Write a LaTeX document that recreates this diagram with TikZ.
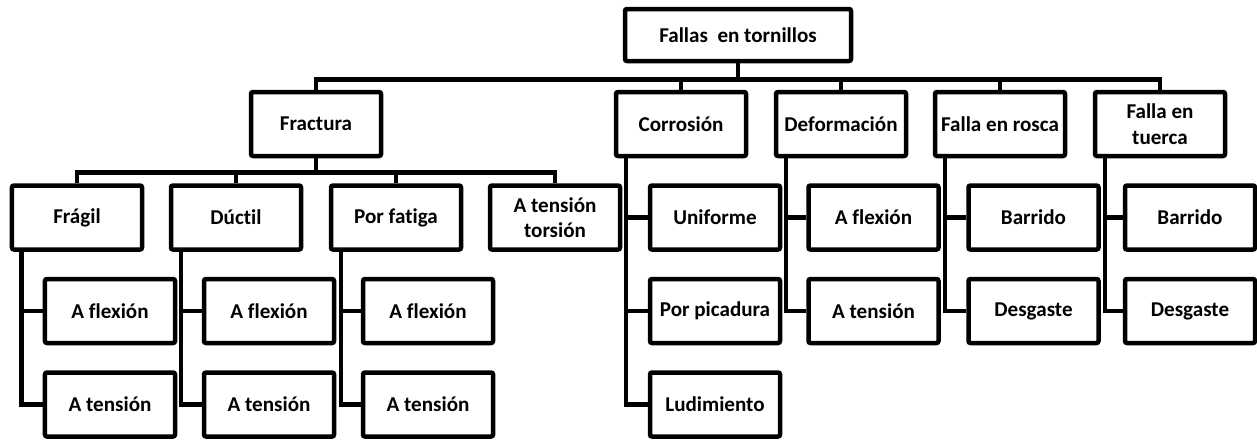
\documentclass[tikz,border=0pt]{standalone}
\usepackage{fontspec}
\setmainfont[Ligatures=NoCommon]{Carlito}

\begin{document}
\begin{tikzpicture}[x=0.2mm, y=-0.2mm,
    box/.style={draw, line width=0.9mm, rounded corners=0.4mm, minimum width=26mm, minimum height=12.8mm,
      inner sep=0pt, align=center, font=\fontsize{12}{14.5}\selectfont\bfseries},
    link/.style={line width=0.9mm}]
      \useasboundingbox (0,0) rectangle (1257,439);
      \def\side{2.4mm}
      \node[box, minimum width=45.2mm, minimum height=10.4mm] (top) at (738,35) {Fallas\ \ en tornillos};
      % second row
      \node[box] (frac) at (316,124) {Fractura};
      \node[box] (corr) at (681,124) {Corrosión};
      \node[box] (defo) at (841,124) {Deformación};
      \node[box] (rosc) at (1000,124) {Falla en rosca};
      \node[box] (tuer) at (1160,124) {Falla en\\tuerca};
      % third row
      \node[box] (fragil) at (77,217.5) {Frágil};
      \node[box] (ductil) at (236,217.5) {Dúctil};
      \node[box] (fatiga) at (396,217.5) {Por fatiga};
      \node[box] (torsion) at (555,217.5) {A tensión\\torsión};
      \node[box] (unif) at (715,217.5) {Uniforme};
      \node[box] (dflex) at (873.5,217.5) {A flexión};
      \node[box] (rbarr) at (1033.5,217.5) {Barrido};
      \node[box] (tbarr) at (1190,217.5) {Barrido};
      % fourth row
      \node[box] (fflex) at (110,311) {A flexión};
      \node[box] (duflex) at (269,311) {A flexión};
      \node[box] (faflex) at (428,311) {A flexión};
      \node[box] (picad) at (715,311) {Por picadura};
      \node[box] (dtens) at (873.5,311) {A tensión};
      \node[box] (rdesg) at (1033.5,311) {Desgaste};
      \node[box] (tdesg) at (1190,311) {Desgaste};
      % fifth row
      \node[box] (ften) at (110,404.5) {A tensión};
      \node[box] (duten) at (269,404.5) {A tensión};
      \node[box] (faten) at (428,404.5) {A tensión};
      \node[box] (ludim) at (715,404.5) {Ludimiento};
      % connectors
      \foreach \c in {frac,corr,defo,rosc,tuer}
        \draw[link] (top.south) -- ++(0,16) -| (\c.north);
      \foreach \c in {fragil,ductil,fatiga,torsion}
        \draw[link] (frac.south) -- ++(0,14) -| (\c.north);
      \foreach \p/\a/\b in {fragil/fflex/ften, ductil/duflex/duten, fatiga/faflex/faten,
                            defo/dflex/dtens, rosc/rbarr/rdesg, tuer/tbarr/tdesg} {
        \draw[link] ([xshift=\side]\p.south west) |- (\a.west);
        \draw[link] ([xshift=\side]\p.south west) |- (\b.west);
      }
      \foreach \c in {unif,picad,ludim}
        \draw[link] ([xshift=\side]corr.south west) |- (\c.west);

    \end{tikzpicture}
\end{document}
